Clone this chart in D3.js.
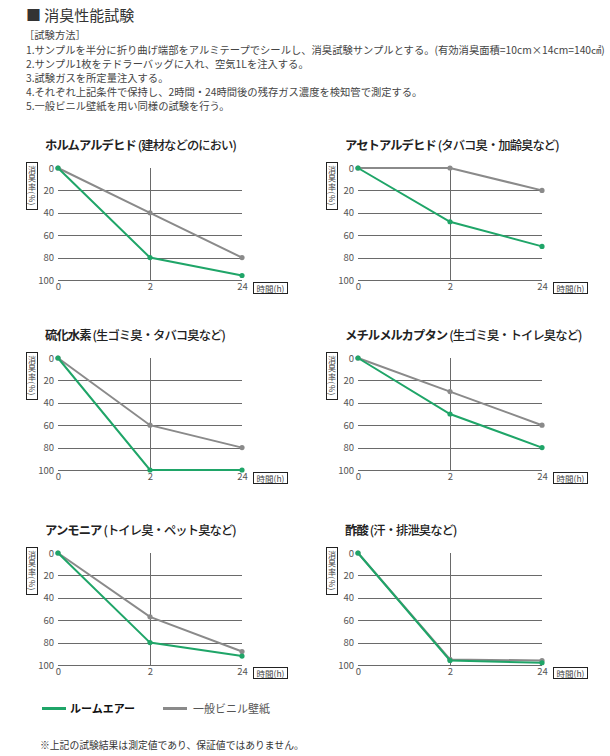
<!DOCTYPE html>
<html lang="ja">
<head>
<meta charset="utf-8">
<script src="https://cdn.jsdelivr.net/npm/d3@7"></script>
<style>
  body { margin: 0; background: #fff; }
  svg { display: block; font-family: "Noto Sans CJK JP", "Noto Sans", sans-serif; }
</style>
</head>
<body>
<svg id="chart" width="610" height="756"></svg>
<script>
// data
const times = ["0", "2", "24"];
const yTicks = [0, 20, 40, 60, 80, 100];
const gasNames = ["ホルムアルデヒド", "アセトアルデヒド", "硫化水素", "メチルメルカプタン", "アンモニア", "酢酸"];
const gasNotes = ["(建材などのにおい)", "(タバコ臭・加齢臭など)", "(生ゴミ臭・タバコ臭など)", "(生ゴミ臭・トイレ臭など)", "(トイレ臭・ペット臭など)", "(汗・排泄臭など)"];
const roomAir = [[0, 80, 96], [0, 48, 70], [0, 100, 100], [0, 50, 80], [0, 80, 92], [0, 96, 98]];
const vinyl = [[0, 40, 80], [0, 0, 20], [0, 60, 80], [0, 30, 60], [0, 57, 88], [0, 95, 96]];
const seriesNames = ["ルームエアー", "一般ビニル壁紙"];
const methodLines = [
  "1.サンプルを半分に折り曲げ端部をアルミテープでシールし、消臭試験サンプルとする。(有効消臭面積=10cm×14cm=140㎠)",
  "2.サンプル1枚をテドラーバッグに入れ、空気1Lを注入する。",
  "3.試験ガスを所定量注入する。",
  "4.それぞれ上記条件で保持し、2時間・24時間後の残存ガス濃度を検知管で測定する。",
  "5.一般ビニル壁紙を用い同様の試験を行う。"
];

const green = "#1fa568";
const gray = "#8a8a8a";
const svg = d3.select("#chart");

// header
svg.append("text").attr("x", 26).attr("y", 21).attr("font-size", 15).attr("fill", "#333")
  .text("■ 消臭性能試験");
svg.append("text").attr("x", 24).attr("y", 39).attr("font-size", 10.3).attr("fill", "#444")
  .text("［試験方法］");
svg.selectAll(".method").data(methodLines).join("text")
  .attr("class", "method")
  .attr("x", 26).attr("y", (d, i) => 53.5 + i * 14)
  .attr("font-size", 10.3).attr("fill", "#444")
  .text(d => d);

const colX = [58, 358];
const rowY = [168, 358, 553];
const plotW = 184, plotH = 112;

gasNames.forEach((name, i) => {
  const left = colX[i % 2], top = rowY[Math.floor(i / 2)];
  const g = svg.append("g");
  const x = d3.scalePoint().domain(times).range([left, left + plotW]);
  const y = d3.scaleLinear().domain([0, 100]).range([top, top + plotH]);

  // title
  const t = g.append("text").attr("x", left - 13).attr("y", top - 18)
    .attr("font-size", 12.3).attr("letter-spacing", -0.9).attr("fill", "#222");
  t.append("tspan").attr("font-weight", 700).text(name);
  t.append("tspan").attr("dx", 2).attr("font-weight", 500).text(gasNotes[i]);

  // grid
  g.selectAll(".grid").data(yTicks.slice(1)).join("line")
    .attr("x1", left).attr("x2", left + plotW)
    .attr("y1", d => Math.round(y(d)) + 0.5).attr("y2", d => Math.round(y(d)) + 0.5)
    .attr("stroke", "#6a6a6a").attr("stroke-width", 1);
  g.append("line")
    .attr("x1", Math.round(x("2")) + 0.5).attr("x2", Math.round(x("2")) + 0.5)
    .attr("y1", y(0)).attr("y2", y(100))
    .attr("stroke", "#6a6a6a").attr("stroke-width", 1);

  // axes labels
  const yAxis = g.append("g").attr("transform", `translate(${left - 4},0)`)
    .call(d3.axisLeft(y).tickValues(yTicks).tickSize(0).tickPadding(0));
  yAxis.select(".domain").remove();
  yAxis.selectAll("text").attr("font-size", 9.5).attr("fill", "#555")
    .attr("font-family", "'Noto Sans CJK JP', sans-serif");

  const xAxis = g.append("g").attr("transform", `translate(0,${top + plotH + 3})`)
    .call(d3.axisBottom(x).tickSize(0).tickPadding(0));
  xAxis.select(".domain").remove();
  xAxis.selectAll("text").attr("font-size", 9.5).attr("fill", "#555")
    .attr("font-family", "'Noto Sans CJK JP', sans-serif");

  // y title box, vertical writing
  g.append("rect").attr("x", left - 31.5).attr("y", top - 5.5).attr("width", 11).attr("height", 47)
    .attr("fill", "#fff").attr("stroke", "#222").attr("stroke-width", 1);
  g.append("text").attr("x", left - 26).attr("y", top + 18)
    .attr("writing-mode", "vertical-rl").attr("text-anchor", "middle")
    .attr("font-size", 8).attr("letter-spacing", 0.6).attr("fill", "#444")
    .text("消臭率(%)");

  // x title box
  const bx = left + plotW + 11, by = top + plotH + 2;
  g.append("rect").attr("x", bx + 0.5).attr("y", by + 0.5).attr("width", 34).attr("height", 11)
    .attr("fill", "#fff").attr("stroke", "#222").attr("stroke-width", 1);
  g.append("text").attr("x", bx + 17.5).attr("y", by + 9.5).attr("text-anchor", "middle")
    .attr("font-size", 8.5).attr("fill", "#444").text("時間(h)");

  // series
  const line = d3.line().x((d, j) => x(times[j])).y(d => y(d));
  [[vinyl[i], gray], [roomAir[i], green]].forEach(([vals, col]) => {
    g.append("path").datum(vals).attr("d", line)
      .attr("fill", "none").attr("stroke", col).attr("stroke-width", 2);
    g.selectAll(null).data(vals).join("circle")
      .attr("cx", (d, j) => x(times[j])).attr("cy", d => y(d)).attr("r", 2.6)
      .attr("fill", col);
  });
});

// legend
const legend = svg.append("g");
[[green, 42, 70, 700, "#111"], [gray, 163, 193, 400, "#555"]].forEach(([col, lx, tx, fw, tc], i) => {
  legend.append("line").attr("x1", lx).attr("x2", lx + 24).attr("y1", 708.5).attr("y2", 708.5)
    .attr("stroke", col).attr("stroke-width", 3);
  legend.append("text").attr("x", tx).attr("y", 712.5).attr("font-size", 11)
    .attr("font-weight", fw).attr("fill", tc).text(seriesNames[i]);
});

svg.append("text").attr("x", 40).attr("y", 749).attr("font-size", 9.8).attr("fill", "#333")
  .text("※上記の試験結果は測定値であり、保証値ではありません。");
</script>
</body>
</html>
